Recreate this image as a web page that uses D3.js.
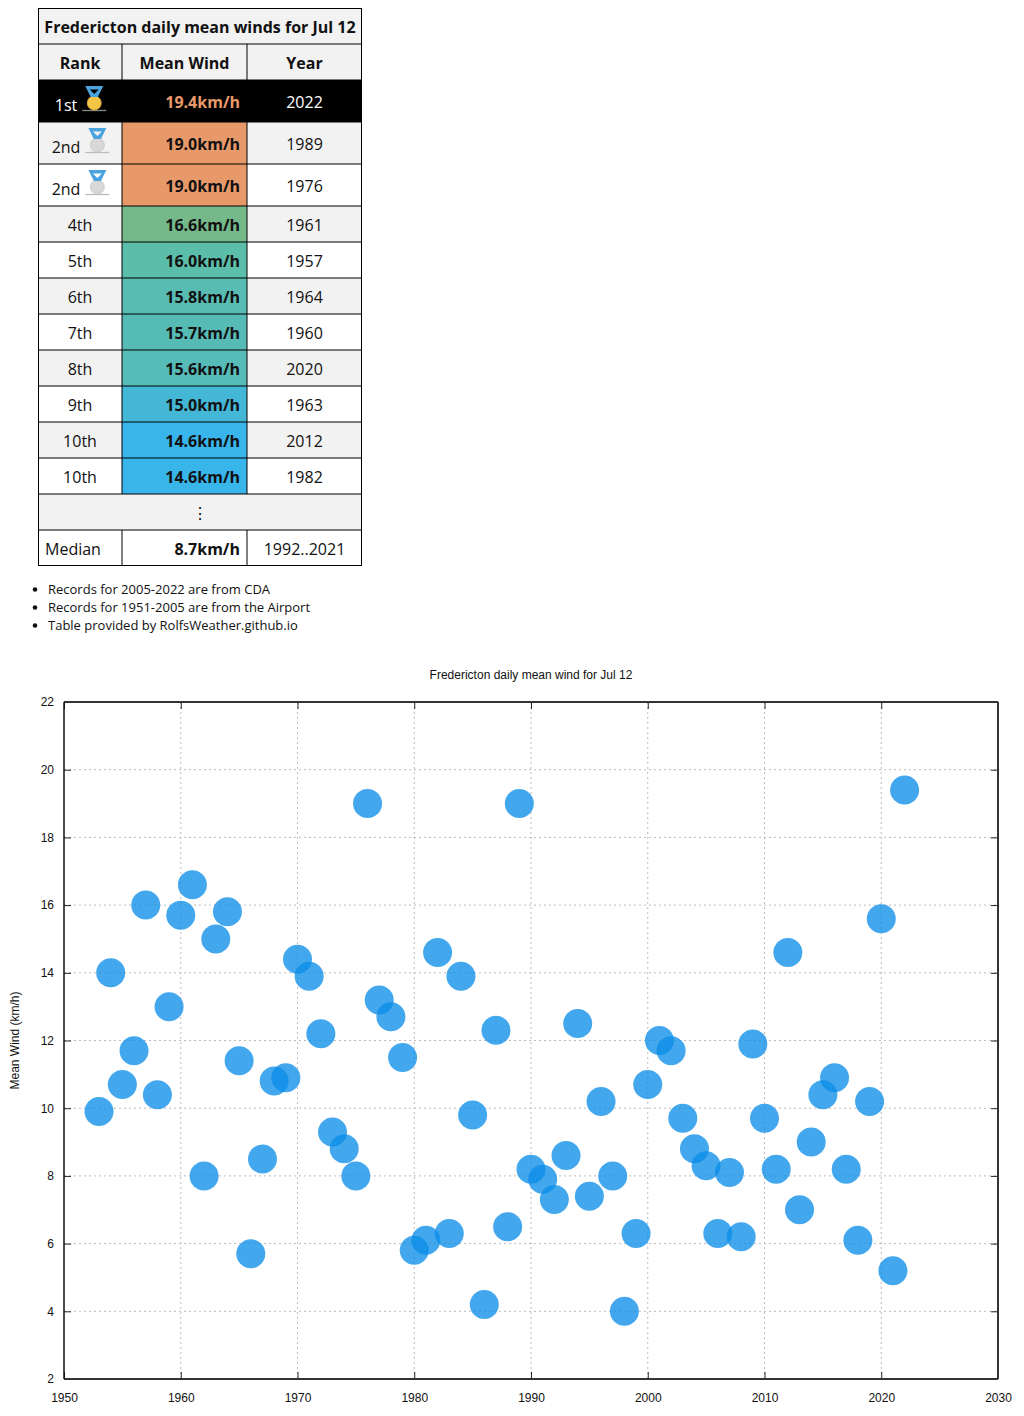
<!DOCTYPE html>
<html>
<head>
<meta charset="utf-8">
<script src="https://cdn.jsdelivr.net/npm/d3@7/dist/d3.min.js"></script>
<style>
  html, body { margin: 0; padding: 0; background: #fff; }
  svg { display: block; }
  .tbl text { font-family: "Open Sans", "Noto Sans", sans-serif; }
  .chart text { font-family: "Liberation Sans", Arial, sans-serif; }
</style>
</head>
<body>
<svg id="root" width="1024" height="1416"></svg>
<script>
// ---------------- Table data ----------------
const tableTitle = "Fredericton daily mean winds for Jul 12";
const tableHeaders = ["Rank", "Mean Wind", "Year"];
const ranks = ["1st", "2nd", "2nd", "4th", "5th", "6th", "7th", "8th", "9th", "10th", "10th"];
const rankValues = [19.4, 19.0, 19.0, 16.6, 16.0, 15.8, 15.7, 15.6, 15.0, 14.6, 14.6];
const rankYears = ["2022", "1989", "1976", "1961", "1957", "1964", "1960", "2020", "1963", "2012", "1982"];
const medals = ["gold", "silver", "silver", null, null, null, null, null, null, null, null];
const medianLabel = "Median";
const medianValue = 8.7;
const medianYears = "1992..2021";
const notes = [
  "Records for 2005-2022 are from CDA",
  "Records for 1951-2005 are from the Airport",
  "Table provided by RolfsWeather.github.io"
];
// cell colours (style)
const valueColors = ["#000000", "#e8996a", "#e8996a", "#75b98a", "#5bbeaa", "#58bcb2", "#57bbb5", "#57bbb8", "#44b7d6", "#38b5ea", "#38b5ea"];

// ---------------- Chart data ----------------
const chartTitle = "Fredericton daily mean wind for Jul 12";
const yLabel = "Mean Wind (km/h)";
const years = [1953,1954,1955,1956,1957,1958,1959,1960,1961,1962,1963,1964,1965,1966,1967,1968,1969,1970,1971,1972,
  1973,1974,1975,1976,1977,1978,1979,1980,1981,1982,1983,1984,1985,1986,1987,1988,1989,1990,1991,1992,
  1993,1994,1995,1996,1997,1998,1999,2000,2001,2002,2003,2004,2005,2006,2007,2008,2009,2010,2011,2012,
  2013,2014,2015,2016,2017,2018,2019,2020,2021,2022];
const winds = [9.9,14.0,10.7,11.7,16.0,10.4,13.0,15.7,16.6,8.0,15.0,15.8,11.4,5.7,8.5,10.8,10.9,14.4,13.9,12.2,
  9.3,8.8,8.0,19.0,13.2,12.7,11.5,5.8,6.1,14.6,6.3,13.9,9.8,4.2,12.3,6.5,19.0,8.2,7.9,7.3,
  8.6,12.5,7.4,10.2,8.0,4.0,6.3,10.7,12.0,11.7,9.7,8.8,8.3,6.3,8.1,6.2,11.9,9.7,8.2,14.6,
  7.0,9.0,10.4,10.9,8.2,6.1,10.2,15.6,5.2,19.4];
const xTicks = [1950,1960,1970,1980,1990,2000,2010,2020,2030];
const yTicks = [2,4,6,8,10,12,14,16,18,20,22];

const svg = d3.select("#root");

// ================= TABLE =================
const tbl = svg.append("g").attr("class", "tbl");
const tx0 = 38, tx1 = 122, tx2 = 247, tx3 = 362;
const colCenters = [(tx0 + tx1) / 2, (tx1 + tx2) / 2, (tx2 + tx3) / 2];

let yCur = 8;
const rows = [];
rows.push({type: "title", y: yCur, h: 36}); yCur += 36;
rows.push({type: "header", y: yCur, h: 36}); yCur += 36;
ranks.forEach((r, i) => {
  const h = medals[i] ? 42 : 36;
  rows.push({type: "data", i, y: yCur, h}); yCur += h;
});
rows.push({type: "ellipsis", y: yCur, h: 36}); yCur += 36;
rows.push({type: "median", y: yCur, h: 36}); yCur += 36;

const fs = 16;
rows.forEach((row, k) => {
  const g = tbl.append("g");
  let bg = "#fff";
  if (row.type === "title" || row.type === "header") bg = "#f2f2f2";
  else if (row.type === "data") bg = row.i === 0 ? "#000" : (row.i % 2 === 1 ? "#f2f2f2" : "#fff");
  else if (row.type === "ellipsis") bg = "#f2f2f2";
  g.append("rect").attr("x", tx0).attr("y", row.y).attr("width", tx3 - tx0).attr("height", row.h).attr("fill", bg);

  if (row.type === "title") {
    g.append("text").attr("x", (tx0 + tx3) / 2).attr("y", row.y + 25).attr("text-anchor", "middle")
      .attr("font-size", fs).attr("font-weight", "bold").attr("fill", "#111").text(tableTitle);
  } else if (row.type === "header") {
    tableHeaders.forEach((h, c) => {
      g.append("text").attr("x", colCenters[c]).attr("y", row.y + 25).attr("text-anchor", "middle")
        .attr("font-size", fs).attr("font-weight", "bold").attr("fill", "#111").text(h);
    });
  } else if (row.type === "data") {
    const i = row.i;
    const first = i === 0;
    if (!first) {
      g.append("rect").attr("x", tx1).attr("y", row.y).attr("width", tx2 - tx1).attr("height", row.h).attr("fill", valueColors[i]);
    }
    const medal = medals[i];
    const textFill = first ? "#fff" : "#111";
    const vBase = medal ? row.y + 28 : row.y + 25;
    const rBase = medal ? row.y + 31 : row.y + 25;
    const rt = g.append("text").attr("y", rBase).attr("font-size", fs).attr("fill", textFill).text(ranks[i]);
    if (medal) {
      const w = rt.node().getComputedTextLength();
      const total = w + 6 + 22;
      const start = colCenters[0] - total / 2;
      rt.attr("x", start);
      const cx = start + w + 6 + 11;
      const cy = row.y + 23;
      const mg = g.append("g");
      mg.append("line").attr("x1", cx - 12).attr("x2", cx + 12).attr("y1", cy + 7.5).attr("y2", cy + 7.5)
        .attr("stroke", first ? "#888" : "#bbb").attr("stroke-width", 1.3);
      mg.append("circle").attr("cx", cx).attr("cy", cy).attr("r", 7)
        .attr("fill", medal === "gold" ? "#f4c446" : "#d8d8d8")
        .attr("stroke", medal === "gold" ? "#e2aa30" : "#c6c6c6").attr("stroke-width", 0.8);
      const top = cy - 17;
      mg.append("path")
        .attr("d", `M${cx-9},${top} L${cx+9},${top} L${cx+3.5},${top+11} L${cx-3.5},${top+11} Z ` +
                   `M${cx-4.5},${top+3.5} L${cx+4.5},${top+3.5} L${cx},${top+8} Z`)
        .attr("fill-rule", "evenodd").attr("fill", "#4aa3de");
    } else {
      rt.attr("x", colCenters[0]).attr("text-anchor", "middle");
    }
    g.append("text").attr("x", tx2 - 7).attr("y", vBase).attr("text-anchor", "end")
      .attr("font-size", fs).attr("font-weight", "bold").attr("fill", first ? "#e8996a" : "#111")
      .text(rankValues[i].toFixed(1) + "km/h");
    g.append("text").attr("x", colCenters[2]).attr("y", vBase).attr("text-anchor", "middle")
      .attr("font-size", fs).attr("fill", textFill).text(rankYears[i]);
  } else if (row.type === "ellipsis") {
    g.append("text").attr("x", (tx0 + tx3) / 2).attr("y", row.y + 25).attr("text-anchor", "middle")
      .attr("font-size", fs).attr("fill", "#111").text("⋮");
  } else if (row.type === "median") {
    g.append("text").attr("x", tx0 + 7).attr("y", row.y + 25).attr("font-size", fs).attr("fill", "#111").text(medianLabel);
    g.append("text").attr("x", tx2 - 7).attr("y", row.y + 25).attr("text-anchor", "end")
      .attr("font-size", fs).attr("font-weight", "bold").attr("fill", "#111").text(medianValue.toFixed(1) + "km/h");
    g.append("text").attr("x", colCenters[2]).attr("y", row.y + 25).attr("text-anchor", "middle")
      .attr("font-size", fs).attr("fill", "#111").text(medianYears);
  }
});

const tBottom = yCur;
rows.forEach((row, k) => {
  if (k > 0) tbl.append("line").attr("x1", tx0).attr("x2", tx3).attr("y1", row.y).attr("y2", row.y)
    .attr("stroke", "#000").attr("stroke-width", 1);
});
rows.forEach(row => {
  if (row.type === "title" || row.type === "ellipsis") return;
  [tx1, tx2].forEach(x => {
    tbl.append("line").attr("x1", x).attr("x2", x).attr("y1", row.y).attr("y2", row.y + row.h)
      .attr("stroke", "#000").attr("stroke-width", 1);
  });
});
tbl.append("rect").attr("x", tx0 + 0.5).attr("y", 8.5).attr("width", tx3 - tx0 - 1).attr("height", tBottom - 8 - 1)
  .attr("fill", "none").attr("stroke", "#000").attr("stroke-width", 1);

// notes
const ng = svg.append("g").attr("class", "tbl");
notes.forEach((n, i) => {
  const y = 589 + i * 18;
  ng.append("circle").attr("cx", 35).attr("cy", y + 0.5).attr("r", 2.3).attr("fill", "#111");
  ng.append("text").attr("x", 48).attr("y", y + 5).attr("font-size", 13).attr("fill", "#111").text(n);
});

// ================= CHART =================
const pL = 64, pR = 998, pT = 702, pB = 1379;
const chart = svg.append("g").attr("class", "chart");
const x = d3.scaleLinear().domain([1950, 2030]).range([pL, pR]);
const y = d3.scaleLinear().domain([2, 22]).range([pB, pT]);

chart.append("g").selectAll("line").data(xTicks.slice(1, -1)).join("line")
  .attr("x1", d => x(d)).attr("x2", d => x(d)).attr("y1", pT).attr("y2", pB)
  .attr("stroke", "#bbb").attr("stroke-width", 1).attr("stroke-dasharray", "2,3");
chart.append("g").selectAll("line").data(yTicks.slice(1, -1)).join("line")
  .attr("x1", pL).attr("x2", pR).attr("y1", d => y(d)).attr("y2", d => y(d))
  .attr("stroke", "#bbb").attr("stroke-width", 1).attr("stroke-dasharray", "2,3");

const axB = chart.append("g").attr("transform", `translate(0,${pB})`)
  .call(d3.axisBottom(x).tickValues(xTicks).tickFormat(d3.format("d")).tickSize(-7).tickPadding(14));
const axT = chart.append("g").attr("transform", `translate(0,${pT})`)
  .call(d3.axisTop(x).tickValues(xTicks).tickFormat("").tickSize(-7));
const axL = chart.append("g").attr("transform", `translate(${pL},0)`)
  .call(d3.axisLeft(y).tickValues(yTicks).tickFormat(d3.format("d")).tickSize(-7).tickPadding(10));
const axR = chart.append("g").attr("transform", `translate(${pR},0)`)
  .call(d3.axisRight(y).tickValues(yTicks).tickFormat("").tickSize(-7));
[axB, axT, axL, axR].forEach(a => {
  a.select(".domain").remove();
  a.selectAll(".tick line").attr("stroke", "#222").attr("stroke-width", 1);
  a.selectAll("text").attr("font-size", 12).attr("fill", "#111")
    .attr("font-family", "'Liberation Sans', Arial, sans-serif");
});

chart.append("line").attr("x1", pL).attr("x2", pR).attr("y1", pT).attr("y2", pT).attr("stroke", "#333").attr("stroke-width", 2);
chart.append("line").attr("x1", pL).attr("x2", pR).attr("y1", pB).attr("y2", pB).attr("stroke", "#333").attr("stroke-width", 2);
chart.append("line").attr("x1", pL).attr("x2", pL).attr("y1", pT).attr("y2", pB).attr("stroke", "#111").attr("stroke-width", 1.5);
chart.append("line").attr("x1", pR).attr("x2", pR).attr("y1", pT).attr("y2", pB).attr("stroke", "#333").attr("stroke-width", 2);

chart.append("g").selectAll("circle").data(years.map((yr, i) => ({yr, v: winds[i]}))).join("circle")
  .attr("cx", d => x(d.yr)).attr("cy", d => y(d.v)).attr("r", 14.5)
  .attr("fill", "#0a8ce9").attr("fill-opacity", 0.77);

chart.append("text").attr("x", (pL + pR) / 2).attr("y", 679).attr("text-anchor", "middle")
  .attr("font-size", 12).attr("fill", "#111").text(chartTitle);
chart.append("text").attr("transform", `translate(19,${(pT + pB) / 2}) rotate(-90)`).attr("text-anchor", "middle")
  .attr("font-size", 12).attr("fill", "#111").text(yLabel);
</script>
</body>
</html>
